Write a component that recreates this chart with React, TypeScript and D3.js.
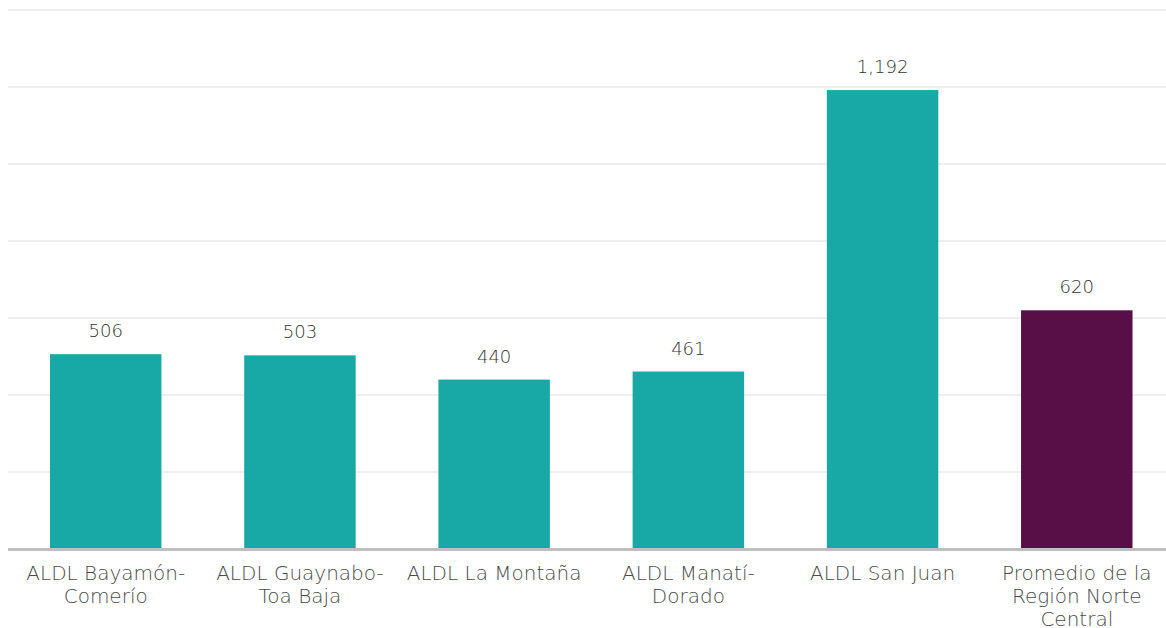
import React from "react";
import * as d3 from "d3";

const categories: string[][] = [
  ["ALDL Bayamón-", "Comerío"],
  ["ALDL Guaynabo-", "Toa Baja"],
  ["ALDL La Montaña"],
  ["ALDL Manatí-", "Dorado"],
  ["ALDL San Juan"],
  ["Promedio de la", "Región Norte", "Central"],
];
const values: number[] = [506, 503, 440, 461, 1192, 620];
const highlight: boolean[] = [false, false, false, false, false, true];
const gridTicks: number[] = [200, 400, 600, 800, 1000, 1200, 1400];

const W = 1166;
const H = 628;
const FONT = "'DejaVu Sans', 'Open Sans', sans-serif";

export default function App() {
  const idx = categories.map((_, i) => String(i));
  const x = d3.scaleBand<string>().domain(idx).range([8.6, 1173.9]).paddingInner(0.426).paddingOuter(0.213);
  const y = d3.scaleLinear().domain([0, 1400]).range([549, 10]);
  const fmt = d3.format(",");
  return (
    <svg width={W} height={H} style={{ position: "absolute", left: 0, top: 0, background: "#fff" }}>
      {gridTicks.map((t) => (
        <line key={t} x1={8} x2={W} y1={y(t)} y2={y(t)} stroke="#eeeeee" strokeWidth={2} />
      ))}
      {values.map((v, i) => (
        <g key={i}>
          <rect
            x={x(String(i))}
            y={y(v)}
            width={x.bandwidth()}
            height={y(0) - y(v) - 1}
            fill={highlight[i] ? "#580F48" : "#18A9A6"}
          />
          <text
            x={(x(String(i)) as number) + x.bandwidth() / 2}
            y={y(v) - 17}
            textAnchor="middle"
            fontFamily={FONT}
            fontWeight={200}
            fontSize={18}
            fill="#333333"
          >
            {fmt(v)}
          </text>
        </g>
      ))}
      <line x1={8} x2={W} y1={549.5} y2={549.5} stroke="#bfbfbf" strokeWidth={3} />
      {categories.map((lines, i) => (
        <text
          key={i}
          x={(x(String(i)) as number) + x.bandwidth() / 2}
          y={579.5}
          textAnchor="middle"
          fontFamily={FONT}
          fontWeight={200}
          fontSize={20}
          fill="#4a4a4a"
        >
          {lines.map((l, j) => (
            <tspan key={j} x={(x(String(i)) as number) + x.bandwidth() / 2} dy={j === 0 ? 0 : 23}>
              {l}
            </tspan>
          ))}
        </text>
      ))}
    </svg>
  );
}
